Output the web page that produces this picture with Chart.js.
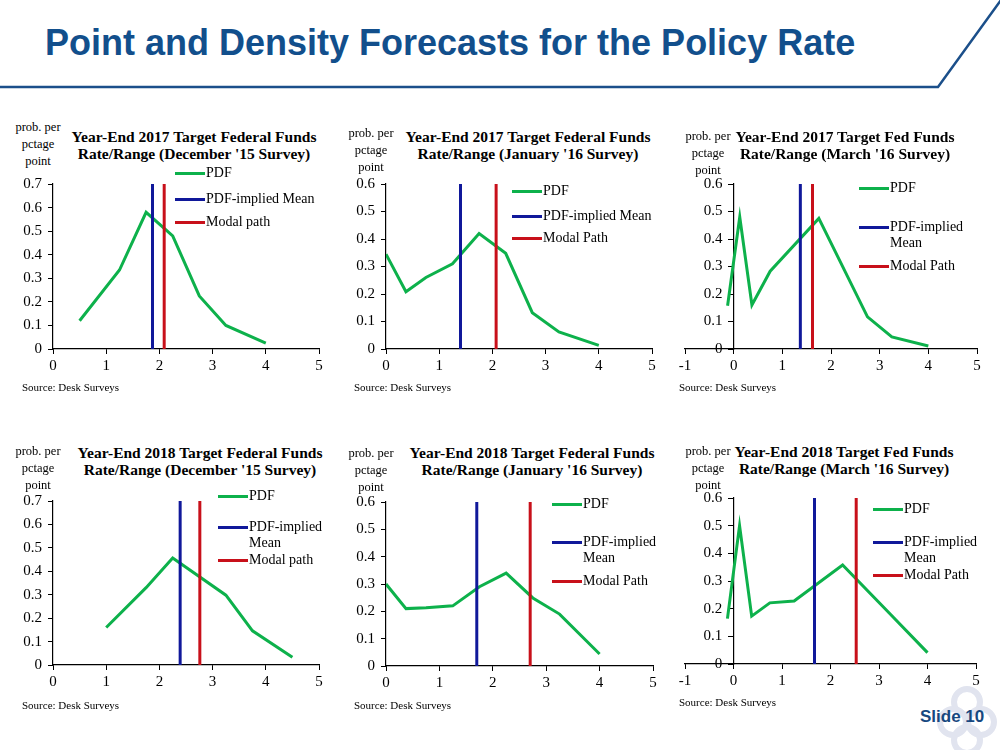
<!DOCTYPE html>
<html>
<head>
<meta charset="utf-8">
<script src="https://cdn.jsdelivr.net/npm/chart.js@4.4.0/dist/chart.umd.min.js"></script>
<style>
  body { margin: 0; background: #fff; width: 1000px; height: 750px; position: relative; overflow: hidden; font-family: "Liberation Serif", serif; }
  .abs { position: absolute; }
  .header { left: 45px; top: 22px; font: bold 36px "Liberation Sans", Arial, sans-serif; color: #124f8c; white-space: nowrap; }
  .ttl { font: bold 15.5px "Liberation Serif", serif; text-align: center; line-height: 17px; white-space: nowrap; transform: translateX(-50%); }
  .ylab { font: 12.5px "Liberation Serif", serif; text-align: center; line-height: 17px; white-space: nowrap; transform: translateX(-50%); }
  .src { font: 11px "Liberation Serif", serif; white-space: nowrap; }
  .leg { font: 14px "Liberation Serif", serif; line-height: 16px; display: flex; align-items: flex-start; white-space: pre-line; }
  .leg i { display: inline-block; width: 30px; height: 3px; margin-top: 7px; margin-right: 1px; flex: none; }
  .slide { left: 920px; top: 707px; font: bold 17px "Liberation Sans", Arial, sans-serif; color: #17487f; }
</style>
</head>
<body>
<svg class="abs" style="left:0;top:0" width="1000" height="100">
  <polyline points="0,87 938,87 1001,0" fill="none" stroke="#1b4f8a" stroke-width="2.5"/>
</svg>
<svg class="abs" style="left:925px;top:680px" width="75" height="70">
  <g fill="none" stroke="#e1e4ef" stroke-width="6">
    <circle cx="42" cy="22" r="13"/>
    <circle cx="28" cy="42" r="13"/>
    <circle cx="56" cy="42" r="13"/>
    <circle cx="42" cy="60" r="13"/>
  </g>
</svg>
<div class="abs header">Point and Density Forecasts for the Policy Rate</div>
<div class="abs slide">Slide 10</div>

<script>
// PDF points (x = policy rate, y = prob. per percentage point)
const pdfX17Dec = [0.5, 1.25, 1.75, 2.25, 2.75, 3.25, 4];
const pdfY17Dec = [0.12, 0.335, 0.58, 0.48, 0.225, 0.10, 0.025];
const pdfX17Jan = [0, 0.375, 0.75, 1.25, 1.75, 2.25, 2.75, 3.25, 4];
const pdfY17Jan = [0.345, 0.208, 0.26, 0.31, 0.42, 0.348, 0.132, 0.062, 0.013];
const pdfX17Mar = [-0.125, 0.125, 0.375, 0.75, 1.75, 2.75, 3.25, 4];
const pdfY17Mar = [0.157, 0.48, 0.16, 0.283, 0.475, 0.117, 0.044, 0.011];
const pdfX18Dec = [1, 1.75, 2.25, 3.25, 3.75, 4.5];
const pdfY18Dec = [0.16, 0.33, 0.457, 0.298, 0.146, 0.033];
const pdfX18Jan = [0, 0.375, 0.75, 1.25, 1.75, 2.25, 2.75, 3.25, 4];
const pdfY18Jan = [0.30, 0.21, 0.213, 0.22, 0.29, 0.34, 0.249, 0.19, 0.044];
const pdfX18Mar = [-0.125, 0.125, 0.375, 0.75, 1.25, 2.25, 3.25, 4];
const pdfY18Mar = [0.164, 0.5, 0.173, 0.221, 0.228, 0.358, 0.177, 0.041];

const meanValues = [1.87, 1.40, 1.37, 2.39, 1.70, 1.67];
const modalValues = [2.09, 2.07, 1.62, 2.76, 2.70, 2.53];
const yMaxValues = [0.7, 0.6, 0.6, 0.7, 0.6, 0.6];
const xMinValues = [0, 0, -1, 0, 0, -1];
const xMaxValues = [5, 5, 5, 5, 5, 5];

const titles = [
    ["Year-End 2017 Target Federal Funds", "Rate/Range (December '15 Survey)"],
    ["Year-End 2017 Target Federal Funds", "Rate/Range (January '16 Survey)"],
    ["Year-End 2017 Target Fed Funds", "Rate/Range (March '16 Survey)"],
    ["Year-End 2018 Target Federal Funds", "Rate/Range (December '15 Survey)"],
    ["Year-End 2018 Target Federal Funds", "Rate/Range (January '16 Survey)"],
    ["Year-End 2018 Target Fed Funds", "Rate/Range (March '16 Survey)"]
];
const meanNames = ["PDF-implied Mean", "PDF-implied Mean", "PDF-implied\nMean", "PDF-implied\nMean", "PDF-implied\nMean", "PDF-implied\nMean"];
const modalNames = ["Modal path", "Modal Path", "Modal Path", "Modal path", "Modal Path", "Modal Path"];
const yAxisLabel = "prob. per\npctage\npoint";
const sourceText = "Source: Desk Surveys";

const pdfXs = [pdfX17Dec, pdfX17Jan, pdfX17Mar, pdfX18Dec, pdfX18Jan, pdfX18Mar];
const pdfYs = [pdfY17Dec, pdfY17Jan, pdfY17Mar, pdfY18Dec, pdfY18Jan, pdfY18Mar];

// page layout: plot rect [left, top, right, bottom], text anchors
const panels = [
    { plot: [53, 184, 319, 349], title: [194, 128], ylab: [38, 119], legX: 175, legY: [173, 199, 222], src: [22, 381] },
    { plot: [386, 184, 652, 349], title: [528, 128], ylab: [371, 125], legX: 512, legY: [191, 216, 238], src: [354, 381] },
    { plot: [685, 184, 977, 349], title: [845, 128], ylab: [708, 128], legX: 859, legY: [188, 227, 266], src: [679, 381] },
    { plot: [53, 501, 319, 665], title: [200, 444], ylab: [38, 443], legX: 218, legY: [496, 527, 560], src: [22, 699] },
    { plot: [386, 502, 653, 666], title: [532, 444], ylab: [371, 445], legX: 552, legY: [504, 542, 581], src: [354, 699] },
    { plot: [685, 498, 976, 664], title: [844, 443], ylab: [708, 443], legX: 873, legY: [509, 542, 575], src: [679, 696] }
];

const green = "#0db14b";
const blue = "#10189a";
const red = "#c8101a";
const tickFont = { family: "Liberation Serif", size: 15 };

function addDiv(cls, left, top, html) {
    const d = document.createElement("div");
    d.className = "abs " + cls;
    d.style.left = left + "px";
    d.style.top = top + "px";
    d.innerHTML = html;
    document.body.appendChild(d);
    return d;
}

function legendRow(x, yCenter, color, text) {
    addDiv("leg", x, yCenter - 8, '<i style="background:' + color + '"></i><span>' + text + "</span>");
}

panels.forEach(function (p, i) {
    const [l, t, r, b] = p.plot;
    const crossAtZero = xMinValues[i] < 0;
    const canvasLeft = l - 50, canvasTop = t - 10;
    const w = (r - l) + 60, h = (b - t) + 45;

    const canvas = document.createElement("canvas");
    canvas.width = w;
    canvas.height = h;
    canvas.style.position = "absolute";
    canvas.style.left = canvasLeft + "px";
    canvas.style.top = canvasTop + "px";
    document.body.appendChild(canvas);

    const yMax = yMaxValues[i];
    const pdfData = pdfXs[i].map((x, k) => ({ x: x, y: pdfYs[i][k] }));
    const meanData = [{ x: meanValues[i], y: 0 }, { x: meanValues[i], y: yMax }];
    const modalData = [{ x: modalValues[i], y: 0 }, { x: modalValues[i], y: yMax }];

    // y axis that crosses at x = 0 draws its labels against the line, so pad them with spaces
    const labelPad = crossAtZero ? "   " : "";

    new Chart(canvas.getContext("2d"), {
        type: "line",
        data: {
            datasets: [
                { label: "PDF", data: pdfData, borderColor: green, borderWidth: 3, pointRadius: 0, tension: 0, order: 3 },
                { label: "PDF-implied Mean", data: meanData, borderColor: blue, borderWidth: 3, pointRadius: 0, order: 2 },
                { label: "Modal path", data: modalData, borderColor: red, borderWidth: 3, pointRadius: 0, order: 1 }
            ]
        },
        options: {
            responsive: false,
            animation: false,
            layout: { padding: { left: crossAtZero ? 50 : 10, top: 10, right: 10, bottom: 5 } },
            plugins: { legend: { display: false }, tooltip: { enabled: false } },
            scales: {
                x: {
                    type: "linear",
                    min: xMinValues[i],
                    max: xMaxValues[i],
                    ticks: { stepSize: 1, font: tickFont, color: "#000", padding: 3 },
                    grid: { drawOnChartArea: false, tickLength: 5, color: "#000", tickColor: "#000" },
                    border: { display: true, color: "#000", width: 1.2 },
                    afterFit: function (s) { s.height = 30; s.paddingLeft = 0; s.paddingRight = 0; }
                },
                y: {
                    position: crossAtZero ? { x: 0 } : "left",
                    min: 0,
                    max: yMax,
                    ticks: {
                        stepSize: 0.1, font: tickFont, color: "#000", padding: 6,
                        callback: function (v) { return (Math.abs(v) < 1e-9 ? "0" : v.toFixed(1)) + labelPad; }
                    },
                    grid: { drawOnChartArea: false, tickLength: 5, color: "#000", tickColor: "#000" },
                    border: { display: true, color: "#000", width: 1.2 },
                    afterFit: function (s) { s.width = 40; s.paddingTop = 0; s.paddingBottom = 0; }
                }
            }
        }
    });

    addDiv("ttl", p.title[0], p.title[1], titles[i][0] + "<br>" + titles[i][1]);
    addDiv("ylab", p.ylab[0], p.ylab[1], yAxisLabel.replace(/\n/g, "<br>"));
    addDiv("src", p.src[0], p.src[1], sourceText);
    legendRow(p.legX, p.legY[0], green, "PDF");
    legendRow(p.legX, p.legY[1], blue, meanNames[i]);
    legendRow(p.legX, p.legY[2], red, modalNames[i]);
});
</script>
</body>
</html>
